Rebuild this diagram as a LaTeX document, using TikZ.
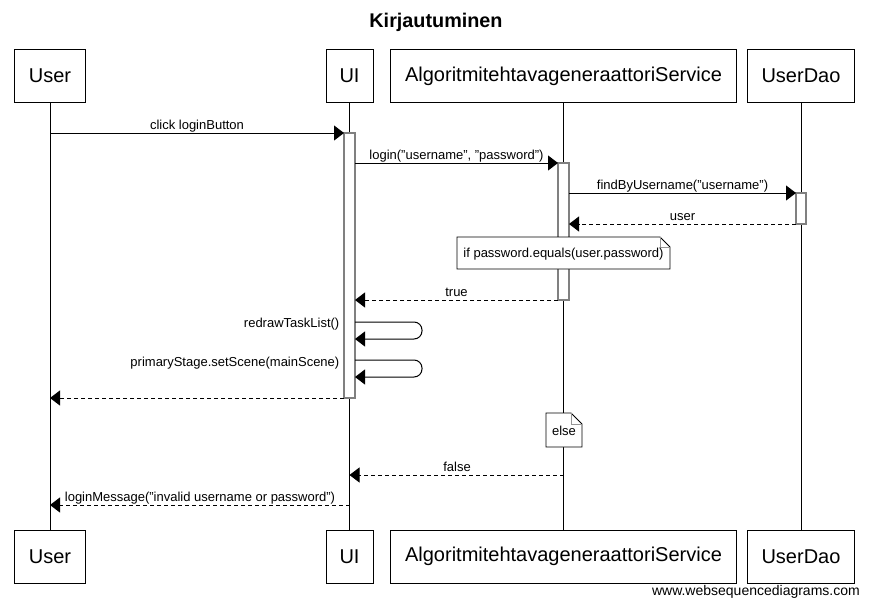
\documentclass[tikz,border=0pt]{standalone}
\usepackage{fontspec}
\setmainfont{Liberation Sans}
\usetikzlibrary{arrows.meta}
\definecolor{actgray}{RGB}{128,128,128}
\definecolor{foldgray}{RGB}{150,150,150}
\begin{document}
\begin{tikzpicture}[x=1pt,y=-1pt,
  partbox/.style={draw=black,line width=1pt,fill=white,inner sep=0pt,minimum height=53pt,font=\fontsize{20}{24}\selectfont},
  lifeline/.style={draw=black,line width=1pt},
  actbox/.style={draw=actgray,line width=1.3pt,fill=white},
  msg/.style={draw=black,line width=1pt,-{Triangle[length=10pt,width=15pt]}},
  ret/.style={msg,dash pattern=on 4pt off 3pt},
  lbl/.style={inner sep=0pt,anchor=base,font=\fontsize{13}{15}\selectfont},
  notebox/.style={draw=black,line width=0.8pt,fill=white},
  notetxt/.style={inner sep=0pt,font=\fontsize{13}{15}\selectfont}
]
\useasboundingbox (0,0) rectangle (869,605);
\fill[white] (0,0) rectangle (869,605);

% title
\node[inner sep=0pt,font=\bfseries\fontsize{19.8}{23}\selectfont] (title) at (436,22) {Kirjautuminen};

% participants
\node[partbox,minimum width=71pt] (uT) at (50,76) {User};
\node[partbox,minimum width=47pt] (uiT) at (349.5,76) {UI};
\node[partbox,minimum width=346pt] (sT) at (563.5,76) {AlgoritmitehtavageneraattoriService};
\node[partbox,minimum width=107pt] (dT) at (801,76) {UserDao};

\node[partbox,minimum width=71pt] (uB) at (50,556.5) {User};
\node[partbox,minimum width=47pt] (uiB) at (349.5,556.5) {UI};
\node[partbox,minimum width=346pt] (sB) at (563.5,556.5) {AlgoritmitehtavageneraattoriService};
\node[partbox,minimum width=107pt] (dB) at (801,556.5) {UserDao};

% lifelines
\draw[lifeline] (uT.south) -- (uB.north);
\draw[lifeline] (uiT.south) -- (uiB.north);
\draw[lifeline] (sT.south) -- (sB.north);
\draw[lifeline] (dT.south) -- (dB.north);

% activation bars
\draw[actbox] (344,133) rectangle (355,398);
\draw[actbox] (558,163) rectangle (569,300);
\draw[actbox] (796,193) rectangle (806,224);

% endpoints
\coordinate (c1a) at (50,133);    \coordinate (c1b) at (344,133);
\coordinate (c2a) at (355,163);   \coordinate (c2b) at (558,163);
\coordinate (c3a) at (569,193);   \coordinate (c3b) at (796,193);
\coordinate (c4a) at (796,224);   \coordinate (c4b) at (569,224);
\coordinate (c6a) at (558,300);   \coordinate (c6b) at (355,300);
\coordinate (s1a) at (355,322);   \coordinate (s1b) at (355,339);
\coordinate (s2a) at (355,360);   \coordinate (s2b) at (355,377);
\coordinate (c9a) at (344,398);   \coordinate (c9b) at (50,398);
\coordinate (c11a) at (563.5,475); \coordinate (c11b) at (349.5,475);
\coordinate (c12a) at (349.5,505); \coordinate (c12b) at (50,505);

% messages
\draw[msg] (c1a) -- (c1b);
\node[lbl] (l1) at (197,129) {click loginButton};

\draw[msg] (c2a) -- (c2b);
\node[lbl] (l2) at (456.5,159) {login("username", "password")};

\draw[msg] (c3a) -- (c3b);
\node[lbl] (l3) at (682.5,189) {findByUsername("username")};

\draw[ret] (c4a) -- (c4b);
\node[lbl] (l4) at (682.5,220) {user};

% note
\draw[notebox] (457,237) -- (660,237) -- (670,247) -- (670,269) -- (457,269) -- cycle;
\draw[foldgray,line width=0.6pt] (660,237) -- (660,247) -- (670,247);
\node[notetxt] (n1) at (563.5,254.5) {if password.equals(user.password)};

\draw[ret] (c6a) -- (c6b);
\node[lbl] (l6) at (456.5,296) {true};

% self messages
\draw[msg,rounded corners=8pt] (s1a) -- (422,322) -- (422,339) -- (s1b);
\node[lbl,anchor=base east] (l7) at (339.5,327) {redrawTaskList()};

\draw[msg,rounded corners=8pt] (s2a) -- (422,360) -- (422,377) -- (s2b);
\node[lbl,anchor=base east] (l8) at (339.5,366) {primaryStage.setScene(mainScene)};

\draw[ret] (c9a) -- (c9b);

% else note
\draw[notebox] (546,413) -- (571,413) -- (582,424) -- (582,447) -- (546,447) -- cycle;
\draw[foldgray,line width=0.6pt] (571,413) -- (571,424) -- (582,424);
\node[notetxt] (n2) at (564,430.5) {else};

\draw[ret] (c11a) -- (c11b);
\node[lbl] (l11) at (457,471) {false};

\draw[ret] (c12a) -- (c12b);
\node[lbl] (l12) at (200,501) {loginMessage("invalid username or password")};

% watermark
\node[inner sep=0pt,anchor=east,font=\fontsize{14}{16}\selectfont] (wm) at (860,592) {www.websequencediagrams.com};
\end{tikzpicture}
\end{document}
